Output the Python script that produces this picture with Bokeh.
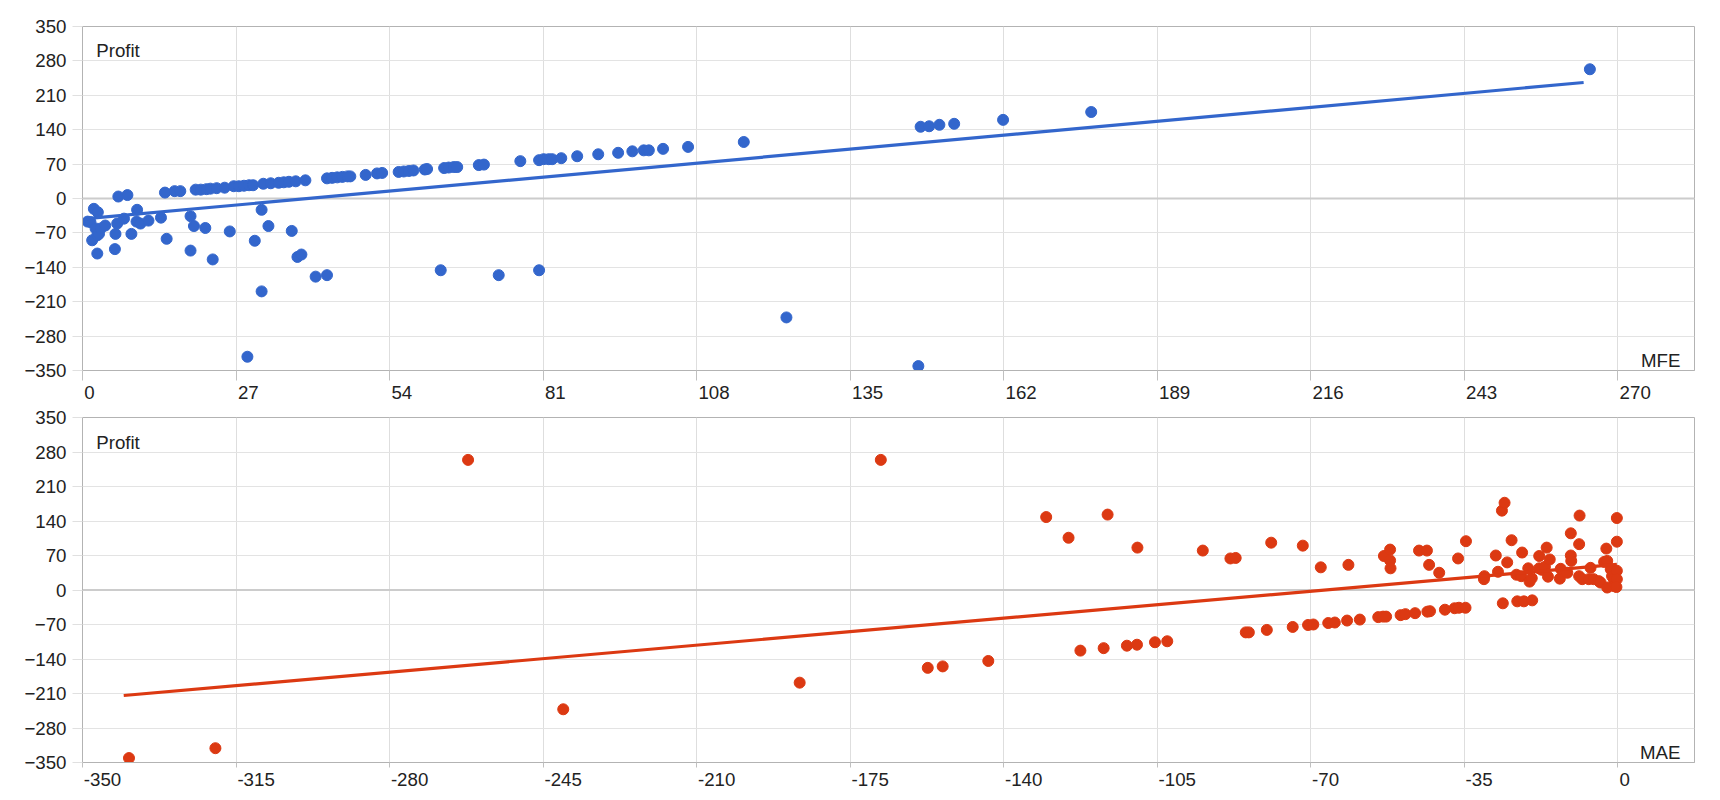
from bokeh.plotting import figure
from bokeh.models import Range1d, FixedTicker, Label, Span
from bokeh.layouts import column
from bokeh.embed import file_html
from bokeh.resources import INLINE

# ---------------- data ----------------
y_ticks = [-350, -280, -210, -140, -70, 0, 70, 140, 210, 280, 350]
mfe_ticks = [0, 27, 54, 81, 108, 135, 162, 189, 216, 243, 270]
mae_ticks = [-350, -315, -280, -245, -210, -175, -140, -105, -70, -35, 0]

mfe = [0.9, 1.4, 1.7, 2.0, 2.3, 2.6, 2.6, 2.7, 2.9, 3.2, 4.0, 5.7, 5.8, 6.1, 6.3, 7.3, 7.9, 8.6, 9.5, 9.6,
       10.2, 11.6, 13.8, 14.5, 14.8,
       16.2, 17.2, 19.9, 20.8, 21.8, 22.5, 23.6, 25.0, 26.6, 27.5, 28.4, 29.3, 30.0, 31.8, 33.1, 34.5,
       35.4, 36.3, 37.5, 39.2,
       19.0, 19.6, 21.6, 19.0, 22.9, 25.9, 30.3, 31.5, 32.7, 31.5, 29.0, 36.8, 37.8, 38.5, 41.0, 43.0,
       43.0, 43.9, 44.8, 45.7, 46.6, 47.1, 49.8, 51.8, 52.7, 55.6, 56.5, 57.4, 58.2, 60.2, 60.6, 63.6,
       64.4, 65.3, 65.9, 69.7, 70.6, 77.0, 80.3, 81.1, 82.0, 82.6, 84.2, 87.0, 90.7, 94.2, 96.7, 98.7, 99.6,
       63.0, 73.2, 80.3, 102.1, 106.5, 116.3, 123.8, 147.0, 147.4, 148.9, 150.7, 153.3, 161.9, 177.4, 265.1]
mfe_profit = [-47, -48, -85, -21, -61, -112, -75, -28, -72, -61, -55, -103, -72, -51, 4, -41, 7, -72, -47, -23,
              -51, -45, -39, 12, -82,
              15, 15, 18, 18, 19, 20, 21, 22, 25, 25, 26, 27, 27, 30, 31, 32,
              33, 34, 35, 37,
              -36, -56, -60, -106, -124, -67, -86, -23, -56, -189, -322, -66, -119, -114, -159, -156,
              41, 42, 43, 44, 45, 45, 48, 51, 52, 54, 55, 56, 57, 59, 60, 62,
              63, 64, 64, 68, 69, 76, 78, 80, 80, 80, 82, 86, 90, 93, 96, 98, 98,
              -146, -156, -146, 101, 105, 115, -242, -341, 146, 147, 150, 152, 160, 176, 263]

mae = [-339.4, -319.7, -262.1, -240.4, -186.5, -168.0, -157.3, -153.9, -143.5, -130.3, -125.2, -116.3,
       -109.5, -94.6, -88.3, -87.1,
       -122.5, -117.2, -111.9, -109.6, -105.5, -102.7, -84.8, -84.1, -80.0, -74.1, -70.6, -69.4, -66.0,
       -64.5, -61.7, -58.8, -54.6, -53.5, -52.8, -49.5, -48.4, -46.2, -43.4, -42.8, -39.4, -37.2, -36.2,
       -34.7, -26.2, -22.9, -21.4, -19.5,
       -79.0, -71.8, -67.7, -61.4, -53.3, -51.9, -51.9, -51.8, -45.3, -43.5, -43.0, -40.7, -36.4, -34.6,
       -30.4, -30.5, -27.8, -27.3, -26.4, -25.8, -25.2, -24.2, -23.1, -22.0, -21.8, -20.4, -20.1, -19.6,
       -17.9, -17.9, -17.3, -16.6, -16.2, -15.9, -15.5, -13.2, -13.0, -11.5, -10.7, -10.7, -10.6, -8.8,
       -8.7, -8.8, -8.1, -6.2, -6.6, -5.5, -4.3, -3.9, -3.1, -2.4, -2.6, -1.6, -1.3, -0.9, -0.9, -0.2,
       -0.2, -2.4, -0.3, -0.2, -0.2]
mae_profit = [-341, -321, 264, -242, -188, 264, -158, -155, -144, 148, 106, 153,
              86, 80, 64, 65,
              -123, -118, -113, -111, -106, -104, -86, -86, -81, -75, -71, -70, -67,
              -66, -62, -60, -55, -54, -54, -51, -49, -47, -44, -43, -40, -37, -36,
              -36, -27, -23, -23, -21,
              96, 90, 46, 51, 69, 82, 60, 44, 80, 80, 51, 35, 64, 99,
              28, 22, 70, 37, 161, 177, 56, 101, 31, 28, 76, 44, 17, 24,
              69, 44, 41, 47, 86, 27, 62, 23, 43, 35, 115, 70, 59, 93,
              151, 28, 22, 45, 22, 22, 18, 15, 57, 59, 84, 42, 28, 22, 8, 39,
              22, 5, 6, 98, 146]

# linear trendlines (end points)
mfe_trend_x = [0.7, 264.0]
mfe_trend_y = [-41, 236]
mae_trend_x = [-340.6, -0.2]
mae_trend_y = [-214, 52]

BLUE = "#3366CC"
RED = "#DC3912"
FONT = "Liberation Sans"
FS = "18.7px"
TXT = "#222222"


def left_aligned(t):
    # centred axis labels padded in front with spaces of the same width,
    # so the visible number starts at its tick (as in the original)
    s = str(t)
    pad = "".join("\u2008" if ch == "-" else "\u2007" for ch in s)
    return "\u2009" + pad + s


def make_panel(xs, ys, tx, ty, xticks, xr, color, xname, height, btop, bbot, tick_out, standoff):
    p = figure(width=1712, height=height, x_range=Range1d(*xr), y_range=Range1d(-350, 350),
               output_backend="svg", toolbar_location=None,
               min_border_left=82, min_border_right=18, min_border_top=btop, min_border_bottom=bbot)
    p.background_fill_color = "white"
    p.border_fill_color = "white"
    p.outline_line_color = "#b3b3b3"
    p.outline_line_width = 1

    p.xaxis.ticker = FixedTicker(ticks=xticks)
    p.yaxis.ticker = FixedTicker(ticks=y_ticks)
    for ax in (p.xaxis, p.yaxis):
        ax.minor_tick_line_color = None
        ax.axis_line_color = "#b3b3b3"
        ax.major_label_text_font = FONT
        ax.major_label_text_font_size = FS
        ax.major_label_text_color = TXT
        ax.major_tick_in = 0
    p.xaxis.major_tick_out = tick_out
    p.xaxis.major_tick_line_color = "#c0c0c0"
    p.xaxis.major_label_standoff = standoff
    p.xaxis.major_label_overrides = {t: left_aligned(t) for t in xticks}
    p.yaxis.major_tick_out = 10
    p.yaxis.major_tick_line_color = "#e0e0e0"
    p.yaxis.major_label_standoff = 6

    p.xgrid.grid_line_color = "#dedede"
    p.ygrid.grid_line_color = "#e3e3e3"
    p.xgrid.grid_line_width = 1
    p.ygrid.grid_line_width = 1

    p.add_layout(Span(location=0, dimension="width", line_color="#cccccc", line_width=2,
                      level="underlay"))

    p.scatter(xs, ys, size=11, color=color, line_color=color)
    p.line(tx, ty, line_width=3.2, color=color)

    x0, x1 = xr
    xpp = (x1 - x0) / 1612.0
    ypp = 700.0 / 347.0
    p.add_layout(Label(x=x0 + 13.7 * xpp, y=350 - 24.7 * ypp, text="Profit", text_font=FONT,
                       text_font_size=FS, text_color=TXT, text_baseline="alphabetic",
                       text_align="left"))
    p.add_layout(Label(x=x1 - 14 * xpp, y=-350 + 9.8 * ypp, text=xname, text_font=FONT,
                       text_font_size=FS, text_color=TXT, text_baseline="alphabetic",
                       text_align="right"))
    return p


p1 = make_panel(mfe, mfe_profit, mfe_trend_x, mfe_trend_y, mfe_ticks, (0, 283.5), BLUE, "MFE",
                405, 26, 32, 10, 1)
p2 = make_panel(mae, mae_profit, mae_trend_x, mae_trend_y, mae_ticks, (-350, 17.5), RED, "MAE",
                387, 12, 28, 5, 1)

layout = column(p1, p2)
open("out.html", "w").write(file_html(layout, INLINE))
